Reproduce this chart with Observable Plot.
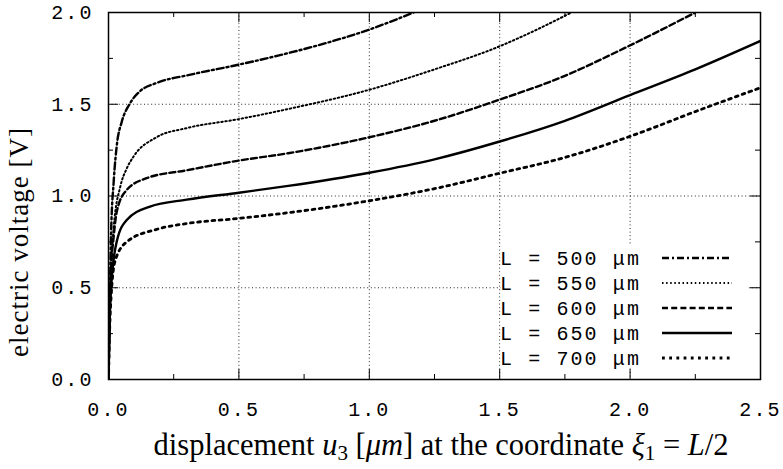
<!DOCTYPE html>
<html><head><meta charset="utf-8">
<script src="https://cdn.jsdelivr.net/npm/d3@7"></script>
<script src="https://cdn.jsdelivr.net/npm/@observablehq/plot@0.6"></script>
<style>
body{margin:0;background:#fff}
#chart svg text{font-family:'Liberation Mono','DejaVu Sans Mono',monospace !important;font-size:20px !important;letter-spacing:2.1px !important;}
#chart svg text.lbl{font-family:'Liberation Serif',serif !important;letter-spacing:0px !important;}
#chart svg text.ylbl{font-size:27px !important;letter-spacing:1px !important;}
#chart svg text.xlbl{font-size:30.5px !important;}
</style>
</head><body><div id="chart"></div>
<script>
// ---- data ----
const seriesNames = ["L = 500 μm", "L = 550 μm", "L = 600 μm", "L = 650 μm", "L = 700 μm"];
const u500 = [0, 0.005, 0.01, 0.02, 0.033, 0.05, 0.083, 0.12, 0.184, 0.31, 0.5, 0.65, 0.8, 1.0, 1.17];
const v500 = [0, 0.45, 0.8, 1.08, 1.29, 1.40, 1.506, 1.57, 1.616, 1.66, 1.716, 1.765, 1.82, 1.907, 2.0];
const u550 = [0, 0.005, 0.01, 0.02, 0.045, 0.07, 0.096, 0.184, 0.3, 0.5, 0.689, 1.0, 1.25, 1.5, 1.61, 1.775];
const v550 = [0, 0.42, 0.62, 0.83, 1.05, 1.15, 1.215, 1.32, 1.37, 1.419, 1.474, 1.579, 1.69, 1.816, 1.885, 2.0];
const u600 = [0, 0.005, 0.01, 0.02, 0.033, 0.07, 0.146, 0.3, 0.5, 0.689, 1.0, 1.25, 1.5, 1.75, 1.98, 2.25];
const v600 = [0, 0.4, 0.6, 0.78, 0.923, 1.033, 1.097, 1.14, 1.193, 1.233, 1.32, 1.41, 1.525, 1.655, 1.807, 2.0];
const u650 = [0, 0.005, 0.01, 0.014, 0.033, 0.07, 0.159, 0.3, 0.5, 0.689, 1.0, 1.25, 1.5, 1.75, 2.0, 2.25, 2.5];
const v650 = [0, 0.35, 0.5, 0.578, 0.76, 0.869, 0.942, 0.98, 1.018, 1.055, 1.127, 1.2, 1.297, 1.41, 1.55, 1.69, 1.845];
const u700 = [0, 0.005, 0.01, 0.026, 0.07, 0.184, 0.3, 0.5, 0.689, 1.0, 1.25, 1.5, 1.75, 2.0, 2.25, 2.5];
const v700 = [0, 0.3, 0.45, 0.65, 0.75, 0.818, 0.85, 0.878, 0.909, 0.974, 1.04, 1.124, 1.21, 1.325, 1.46, 1.59];

const xTicks = [0, 0.5, 1, 1.5, 2, 2.5];
const xTickLabels = ["0.0", "0.5", "1.0", "1.5", "2.0", "2.5"];
const yTicks = [0, 0.5, 1, 1.5, 2];
const yTickLabels = ["0.0", "0.5", "1.0", "1.5", "2.0"];
const xMinor = [0.25, 0.75, 1.25, 1.75, 2.25];
const yMinor = [0.25, 0.75, 1.25, 1.75];
const xGrid = [0.5, 1, 1.5, 2];
const yGrid = [0.5, 1, 1.5];

// ---- styles ----
const dashes = ["7,3,2,3", "1.5,2.6", "6,3.2", null, "2.8,4.4"];
const widths = [2.4, 2, 2.4, 2.4, 2.8];

const us = [u500, u550, u600, u650, u700];
const vs = [v500, v550, v600, v650, v700];
const rows = seriesNames.map((name, k) => us[k].map((u, i) => ({name, u, v: vs[k][i]})));

const W = 783, H = 469, mL = 108, mR = 23, mT = 12, mB = 90;
const fw = W - mL - mR, fh = H - mT - mB;
const major = 10, minor = 5;

const tickMarks = [];
for (const [data, len] of [[xTicks, major], [xMinor, minor]]) {
  tickMarks.push(Plot.tickX(data, {x: d => d, insetTop: fh - len, stroke: "#000"}));
  tickMarks.push(Plot.tickX(data, {x: d => d, insetBottom: fh - len, stroke: "#000"}));
}
for (const [data, len] of [[yTicks, major], [yMinor, minor]]) {
  tickMarks.push(Plot.tickY(data, {y: d => d, insetRight: fw - len, stroke: "#000"}));
  tickMarks.push(Plot.tickY(data, {y: d => d, insetLeft: fw - len, stroke: "#000"}));
}

const chart = Plot.plot({
  width: W, height: H,
  marginLeft: mL, marginRight: mR, marginTop: mT, marginBottom: mB,
  x: {domain: [0, 2.5]},
  y: {domain: [0, 2]},
  style: "background:#fff;color:#000;",
  marks: [
    Plot.gridX(xGrid, {stroke: "#000", strokeOpacity: 0.85, strokeDasharray: "1,2.6"}),
    Plot.gridY(yGrid, {stroke: "#000", strokeOpacity: 0.85, strokeDasharray: "1,2.6"}),
    ...rows.map((r, k) => Plot.line(r, {x: "u", y: "v", curve: "monotone-x", stroke: "#000",
      strokeWidth: widths[k], strokeDasharray: dashes[k], clip: true})),
    ...tickMarks,
    Plot.axisX(xTicks, {tickSize: 0, tickPadding: 22, label: null, tickFormat: d => xTickLabels[xTicks.indexOf(d)]}),
    Plot.axisY(yTicks, {tickSize: 0, tickPadding: 15, label: null, tickFormat: d => yTickLabels[yTicks.indexOf(d)]}),
    Plot.frame({stroke: "#000", strokeWidth: 1.5})
  ]
});
document.getElementById("chart").appendChild(chart);

const svg = d3.select(chart);
// legend
const lg = svg.append("g").attr("text-anchor", "start");
lg.append("rect").attr("x", 500.5).attr("y", 244).attr("width", 248).attr("height", 124).attr("fill", "#fff");
seriesNames.forEach((name, k) => {
  const cy = 258 + k * 25;
  lg.append("text").attr("x", 500).attr("y", cy + 6.5).text(name);
  lg.append("line").attr("x1", 662).attr("x2", 732).attr("y1", cy).attr("y2", cy)
    .attr("stroke", "#000").attr("stroke-width", widths[k])
    .attr("stroke-dasharray", dashes[k]);
});
// axis labels
svg.append("text").attr("class", "lbl ylbl").attr("transform", "translate(28,242) rotate(-90)")
  .attr("text-anchor", "middle").text("electric voltage [V]");
const xl = svg.append("text").attr("class", "lbl xlbl").attr("x", 441).attr("y", 455).attr("text-anchor", "middle");
xl.append("tspan").text("displacement ");
xl.append("tspan").attr("font-style", "italic").text("u");
xl.append("tspan").style("font-size", "21px").attr("dy", 5).text("3");
xl.append("tspan").attr("dy", -5).text(" [");
xl.append("tspan").attr("font-style", "italic").text("μm");
xl.append("tspan").text("] at the coordinate ");
xl.append("tspan").attr("font-style", "italic").text("ξ");
xl.append("tspan").style("font-size", "21px").attr("dy", 5).text("1");
xl.append("tspan").attr("dy", -5).text("\u2005=\u2005");
xl.append("tspan").attr("font-style", "italic").text("L");
xl.append("tspan").text("/2");
</script>
</body></html>
